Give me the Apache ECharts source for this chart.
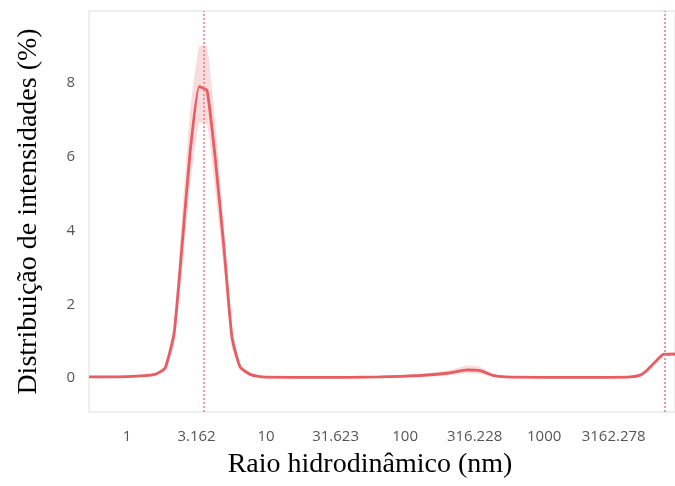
<!DOCTYPE html>
<html>
<head>
<meta charset="utf-8">
<script src="https://cdn.jsdelivr.net/npm/echarts@6/dist/echarts.min.js"></script>
<style>
  html, body { margin: 0; padding: 0; background: #fff; }
  #main { width: 675px; height: 486px; }
</style>
</head>
<body>
<div id="main"></div>
<script>
// hydrodynamic radius (nm) and intensity (%)
const sizes = [0.533, 1.0, 1.59, 1.88, 2.18, 2.49, 2.84, 3.30, 3.76, 4.30, 4.99, 5.69, 6.50, 7.67, 9.36, 15, 40, 66, 128, 200, 280, 347, 430, 525, 1000, 3000, 4170, 4900, 5520, 6490, 7180, 8730];
const intensity = [0.03, 0.04, 0.10, 0.27, 1.2, 3.6, 6.1, 7.9, 7.8, 6.0, 3.5, 1.1, 0.3, 0.1, 0.03, 0.02, 0.02, 0.03, 0.07, 0.13, 0.22, 0.2, 0.07, 0.03, 0.02, 0.02, 0.03, 0.08, 0.22, 0.49, 0.64, 0.65];
// shaded spread around the curve
const upper = [0.06, 0.07, 0.14, 0.33, 1.5, 4.4, 7.2, 9.0, 9.0, 7.0, 4.1, 1.4, 0.38, 0.14, 0.06, 0.05, 0.05, 0.06, 0.11, 0.2, 0.34, 0.3, 0.11, 0.06, 0.05, 0.05, 0.06, 0.11, 0.26, 0.54, 0.69, 0.7];
const lower = [0.0, 0.01, 0.06, 0.2, 0.9, 2.9, 5.2, 6.9, 6.9, 5.1, 2.9, 0.8, 0.22, 0.06, 0.0, 0.0, 0.0, 0.0, 0.03, 0.07, 0.13, 0.11, 0.03, 0.0, 0.0, 0.0, 0.0, 0.05, 0.18, 0.44, 0.59, 0.6];
const xTicks = [1, 3.16227766, 10, 31.6227766, 100, 316.227766, 1000, 3162.27766];
const yTicks = [0, 2, 4, 6, 8];
const markers = [3.58, 7420];

const lineColor = "#e85c62";

let myChart = echarts.init(document.getElementById("main"));
myChart.setOption({
  animation: false,
  grid: {
    left: 89,
    top: 11,
    right: 0,
    bottom: 74,
    show: true,
    borderColor: "#dddddd",
    borderWidth: 1,
  },
  xAxis: {
    type: "log",
    logBase: 10,
    min: 0.533,
    max: 8730,
    name: "Raio hidrodinâmico (nm)",
    nameLocation: "middle",
    nameGap: 39,
    nameTextStyle: {
      fontFamily: "Liberation Serif",
      fontSize: 28,
      color: "#000",
      padding: [0, 24, 0, 0],
    },
    axisLine: { show: false },
    axisTick: { show: false },
    splitLine: { show: false },
    axisLabel: {
      customValues: xTicks,
      margin: 17,
      fontFamily: "Open Sans",
      fontSize: 15,
      color: "#555",
      formatter: (v) => String(Math.round(v * 1000) / 1000),
    },
  },
  yAxis: {
    type: "value",
    min: -0.92,
    max: 9.95,
    name: "Distribuição de intensidades (%)",
    nameLocation: "middle",
    nameGap: 46,
    nameTextStyle: {
      fontFamily: "Liberation Serif",
      fontSize: 28,
      color: "#000",
    },
    axisLine: { show: false },
    axisTick: { show: false },
    splitLine: { show: false },
    axisLabel: {
      customValues: yTicks,
      margin: 14,
      fontFamily: "Open Sans",
      fontSize: 15,
      color: "#555",
    },
  },
  series: [
    {
      // spread band drawn as one polygon through the axes' scales
      name: "band",
      type: "custom",
      silent: true,
      clip: true,
      data: [0],
      renderItem: (params, api) => {
        const top = sizes.map((s, i) => api.coord([s, upper[i]]));
        const bottom = sizes.map((s, i) => api.coord([s, lower[i]])).reverse();
        return {
          type: "polygon",
          shape: { points: top.concat(bottom), smooth: 0.15 },
          style: { fill: "rgba(240, 140, 150, 0.3)" },
        };
      },
    },
    {
      name: "intensidade",
      type: "line",
      data: sizes.map((s, i) => [s, intensity[i]]),
      symbol: "none",
      smooth: 0.15,
      lineStyle: { color: lineColor, width: 2.8 },
      markLine: {
        silent: true,
        symbol: "none",
        label: { show: false },
        lineStyle: { color: "#ef7a80", type: [2, 2], width: 1.5 },
        data: markers.map((m) => ({ xAxis: m })),
      },
    },
  ],
});
</script>
</body>
</html>
